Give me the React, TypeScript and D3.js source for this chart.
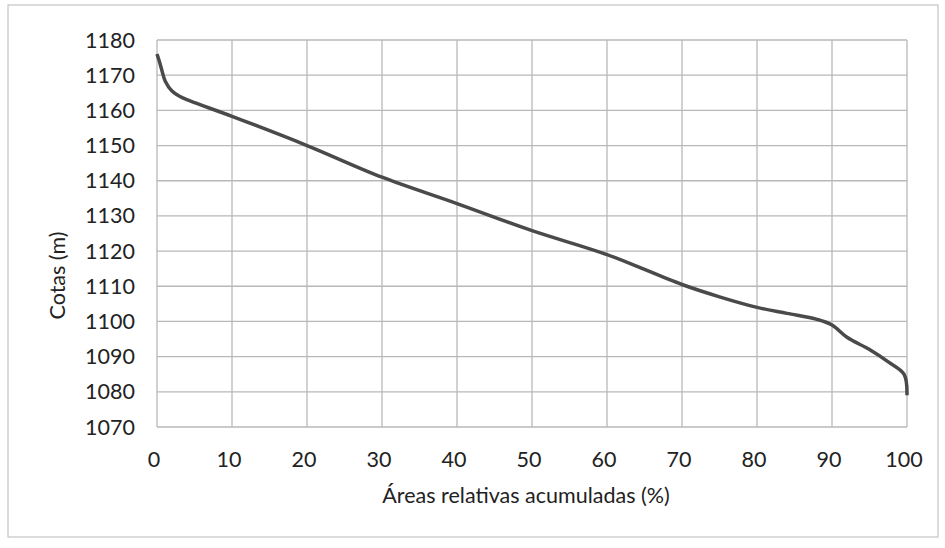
// Curva hipsométrica — áreas relativas acumuladas vs cotas
import React, { useEffect, useRef } from 'react';
import * as d3 from 'd3';

// Datos
const areas = [0, 0.3, 0.7, 1.1, 2, 3, 4.4, 10, 20, 30, 40, 50, 60, 70, 75, 80, 84, 88, 90, 92, 95, 97.5, 99.6, 100];
const cotas = [1176, 1174, 1171, 1168.3, 1165.5, 1164, 1162.7, 1158.3, 1150, 1141, 1133.5, 1125.8, 1119, 1110.5, 1107, 1104, 1102.3, 1100.6, 1099, 1095.5, 1092, 1088.5, 1085, 1079];

const xTicks = [0, 10, 20, 30, 40, 50, 60, 70, 80, 90, 100];
const yTicks = [1070, 1080, 1090, 1100, 1110, 1120, 1130, 1140, 1150, 1160, 1170, 1180];

const xTitle = 'Áreas relativas acumuladas (%)';
const yTitle = 'Cotas (m)';

const App: React.FC = () => {
  const svgRef = useRef<SVGSVGElement>(null);

  useEffect(() => {
    if (!svgRef.current) return;
    const svg = d3.select(svgRef.current);
    svg.selectAll('*').remove();

    const width = 945;
    const height = 548;
    const margin = { top: 40, right: 38, bottom: 121, left: 157 };
    const innerW = width - margin.left - margin.right;
    const innerH = height - margin.top - margin.bottom;
    const font = 'Lato, "Open Sans", sans-serif';
    const gridColor = '#b8b8b8';

    svg.attr('viewBox', `0 0 ${width} ${height}`);

    // fondo y marco exterior
    svg.append('rect').attr('width', width).attr('height', height).attr('fill', '#ffffff');
    svg.append('rect')
      .attr('x', 8).attr('y', 5)
      .attr('width', 930).attr('height', 532)
      .attr('fill', 'none')
      .attr('stroke', '#c4c4c4')
      .attr('stroke-width', 1.2);

    const g = svg.append('g').attr('transform', `translate(${margin.left},${margin.top})`);

    const xScale = d3.scaleLinear().domain([0, 100]).range([0, innerW]);
    const yScale = d3.scaleLinear().domain([1070, 1180]).range([innerH, 0]);

    // Cuadrícula
    g.append('g')
      .selectAll('line')
      .data(yTicks)
      .enter()
      .append('line')
      .attr('x1', 0)
      .attr('x2', innerW)
      .attr('y1', (d) => yScale(d))
      .attr('y2', (d) => yScale(d))
      .attr('stroke', gridColor)
      .attr('stroke-width', 1.3);

    g.append('g')
      .selectAll('line')
      .data(xTicks)
      .enter()
      .append('line')
      .attr('x1', (d) => xScale(d))
      .attr('x2', (d) => xScale(d))
      .attr('y1', 0)
      .attr('y2', innerH)
      .attr('stroke', gridColor)
      .attr('stroke-width', 1.3);

    // Etiquetas eje Y
    g.append('g')
      .selectAll('text')
      .data(yTicks)
      .enter()
      .append('text')
      .attr('x', -22)
      .attr('y', (d) => yScale(d))
      .attr('dy', '0.35em')
      .attr('text-anchor', 'end')
      .attr('font-family', font)
      .attr('font-size', 21.5)
      .attr('fill', '#222')
      .text((d) => d);

    // Etiquetas eje X
    g.append('g')
      .selectAll('text')
      .data(xTicks)
      .enter()
      .append('text')
      .attr('x', (d) => xScale(d) - 3)
      .attr('y', innerH + 40)
      .attr('text-anchor', 'middle')
      .attr('font-family', font)
      .attr('font-size', 21.5)
      .attr('fill', '#222')
      .text((d) => d);

    // Títulos
    g.append('text')
      .attr('x', innerW / 2 - 6)
      .attr('y', innerH + 76)
      .attr('text-anchor', 'middle')
      .attr('font-family', font)
      .attr('font-size', 21.5)
      .attr('fill', '#222')
      .text(xTitle);

    g.append('text')
      .attr('transform', `translate(${-92},${innerH / 2 + 42}) rotate(-90)`)
      .attr('text-anchor', 'middle')
      .attr('font-family', font)
      .attr('font-size', 21.5)
      .attr('fill', '#222')
      .text(yTitle);

    // Curva
    const data = areas.map((a, i) => ({ x: a, y: cotas[i] }));
    const line = d3.line<{ x: number; y: number }>()
      .x((d) => xScale(d.x))
      .y((d) => yScale(d.y))
      .curve(d3.curveCatmullRom.alpha(0.5));

    g.append('path')
      .datum(data)
      .attr('fill', 'none')
      .attr('stroke', '#4a4a4a')
      .attr('stroke-width', 3.5)
      .attr('stroke-linejoin', 'round')
      .attr('stroke-linecap', 'butt')
      .attr('d', line);
  }, []);

  return (
    <div style={{ position: 'absolute', left: 0, top: 0 }}>
      <svg ref={svgRef} width={945} height={548} style={{ display: 'block' }} />
    </div>
  );
};

export default App;
